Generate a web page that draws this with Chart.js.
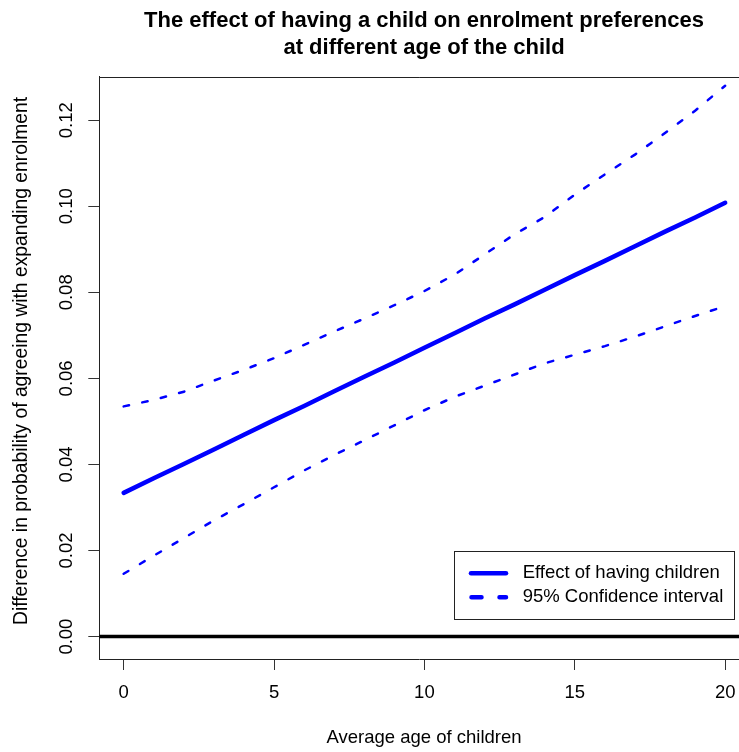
<!DOCTYPE html>
<html>
<head>
<meta charset="utf-8">
<title>Effect of having a child on enrolment preferences</title>
<style>
  html, body { margin: 0; padding: 0; background: #fff; overflow: hidden; }
  canvas { display: block; }
</style>
<script src="https://cdn.jsdelivr.net/npm/chart.js@4.4.1/dist/chart.umd.min.js"></script>
</head>
<body>
<canvas id="chart" width="739" height="752"></canvas>
<script>
// Average age of children (years)
const ages = [0, 1, 2, 3, 4, 5, 6, 7, 8, 9, 10, 11, 12, 13, 14, 15, 16, 17, 18, 19, 20];

// Estimated effect of having children on the probability of agreeing
const effect = [0.0334, 0.0368, 0.0401, 0.0435, 0.0469, 0.0503, 0.0536, 0.0570, 0.0604, 0.0637,
                0.0671, 0.0705, 0.0739, 0.0772, 0.0806, 0.0840, 0.0873, 0.0907, 0.0941, 0.0974, 0.1008];

// 95% confidence bounds
const upperCI = [0.0535, 0.0550, 0.0569, 0.0595, 0.0620, 0.0647, 0.0678, 0.0709, 0.0739, 0.0770,
                 0.0803, 0.0841, 0.0888, 0.0935, 0.0975, 0.1027, 0.1074, 0.1120, 0.1170, 0.1222, 0.1280];
const lowerCI = [0.0146, 0.0188, 0.0229, 0.0270, 0.0308, 0.0347, 0.0386, 0.0422, 0.0456, 0.0491,
                 0.0526, 0.0557, 0.0583, 0.0609, 0.0635, 0.0655, 0.0675, 0.0697, 0.0721, 0.0745, 0.0768];

// Axis ticks and labels
const xTicks = [0, 5, 10, 15, 20];
const xTickLabels = ['0', '5', '10', '15', '20'];
const yTicks = [0, 0.02, 0.04, 0.06, 0.08, 0.10, 0.12];
const yTickLabels = ['0.00', '0.02', '0.04', '0.06', '0.08', '0.10', '0.12'];

const titleLines = ['The effect of having a child on enrolment preferences',
                    'at different age of the child'];
const xTitle = 'Average age of children';
const yTitle = 'Difference in probability of agreeing with expanding enrolment';
const legendLabels = ['Effect of having children', '95% Confidence interval'];

const FONT = '"Liberation Sans", Arial, Helvetica, sans-serif';
const BLUE = '#0000ff';
const LABEL_SIZE = 18.5;

const toPoints = (xs, ys) => xs.map((v, i) => ({ x: v, y: ys[i] }));

// Frame, reference line, tick labels, titles and legend
const decorations = {
  id: 'decorations',
  afterDatasetsDraw(chart) {
    const { ctx, chartArea: a, scales: { x, y } } = chart;
    ctx.save();

    // horizontal reference line at zero
    const y0 = y.getPixelForValue(0);
    ctx.strokeStyle = '#000';
    ctx.lineWidth = 3.5;
    ctx.beginPath();
    ctx.moveTo(a.left, y0);
    ctx.lineTo(a.right, y0);
    ctx.stroke();

    // top edge of the plot frame
    ctx.strokeStyle = '#222';
    ctx.lineWidth = 1;
    const yt = Math.round(a.top) + 0.5;
    ctx.beginPath();
    ctx.moveTo(a.left, yt);
    ctx.lineTo(a.right, yt);
    ctx.stroke();

    ctx.fillStyle = '#000';
    ctx.textAlign = 'center';
    ctx.textBaseline = 'middle';
    ctx.font = `${LABEL_SIZE}px ${FONT}`;

    // x tick labels
    xTicks.forEach((v, i) => ctx.fillText(xTickLabels[i], x.getPixelForValue(v), 693));

    // y tick labels, rotated to read upwards
    yTicks.forEach((v, i) => {
      ctx.save();
      ctx.translate(66.7, y.getPixelForValue(v));
      ctx.rotate(-Math.PI / 2);
      ctx.fillText(yTickLabels[i], 0, 0);
      ctx.restore();
    });

    // axis titles
    const centreX = 424;
    ctx.fillText(xTitle, centreX, 738);
    ctx.save();
    ctx.translate(22, 361);
    ctx.rotate(-Math.PI / 2);
    ctx.font = `19.3px ${FONT}`;
    ctx.fillText(yTitle, 0, 0);
    ctx.restore();

    // main title
    ctx.font = `bold 22px ${FONT}`;
    ctx.textBaseline = 'alphabetic';
    ctx.fillText(titleLines[0], centreX, 26.5);
    ctx.fillText(titleLines[1], centreX, 54);

    // legend
    const lx = 454.5, ly = 551.5, lw = 280, lh = 68;
    ctx.fillStyle = '#fff';
    ctx.fillRect(lx, ly, lw, lh);
    ctx.strokeStyle = '#222';
    ctx.lineWidth = 1;
    ctx.strokeRect(lx, ly, lw, lh);

    const rows = [573.3, 597.3];
    ctx.strokeStyle = BLUE;
    ctx.lineWidth = 4.5;
    ctx.lineCap = 'round';
    ctx.beginPath();
    ctx.moveTo(471, rows[0]);
    ctx.lineTo(506, rows[0]);
    ctx.stroke();
    ctx.setLineDash([10, 18]);
    ctx.beginPath();
    ctx.moveTo(471.5, rows[1]);
    ctx.lineTo(506, rows[1]);
    ctx.stroke();
    ctx.setLineDash([]);

    ctx.fillStyle = '#000';
    ctx.font = `${LABEL_SIZE}px ${FONT}`;
    ctx.textAlign = 'left';
    ctx.textBaseline = 'middle';
    legendLabels.forEach((t, i) => ctx.fillText(t, 522.7, rows[i]));

    ctx.restore();
  }
};

new Chart(document.getElementById('chart'), {
  type: 'line',
  data: {
    datasets: [
      {
        label: legendLabels[0],
        data: toPoints(ages, effect),
        borderColor: BLUE,
        borderWidth: 4.5,
        borderCapStyle: 'round',
        borderJoinStyle: 'round',
        pointRadius: 0,
        tension: 0
      },
      {
        label: legendLabels[1],
        data: toPoints(ages, upperCI),
        borderColor: BLUE,
        borderWidth: 2.5,
        borderDash: [5.5, 13.5],
        borderCapStyle: 'round',
        pointRadius: 0,
        tension: 0
      },
      {
        label: legendLabels[1],
        data: toPoints(ages, lowerCI),
        borderColor: BLUE,
        borderWidth: 2.5,
        borderDash: [5.5, 13.5],
        borderCapStyle: 'round',
        pointRadius: 0,
        tension: 0
      }
    ]
  },
  options: {
    responsive: false,
    animation: false,
    devicePixelRatio: 1,
    layout: { padding: { top: 76.7, left: 0, right: 0, bottom: 0 } },
    plugins: {
      legend: { display: false },
      title: { display: false },
      tooltip: { enabled: false }
    },
    scales: {
      x: {
        type: 'linear',
        min: -0.81,
        max: 20.46,
        afterBuildTicks: s => { s.ticks = xTicks.map(v => ({ value: v })); },
        afterFit: s => { s.height = 93; },
        grid: { drawOnChartArea: false, drawTicks: true, tickLength: 11, color: '#333', lineWidth: 1 },
        border: { display: true, color: '#222', width: 1 },
        ticks: { display: false }
      },
      y: {
        type: 'linear',
        min: -0.0052,
        max: 0.1301,
        afterBuildTicks: s => { s.ticks = yTicks.map(v => ({ value: v })); },
        afterFit: s => { s.width = 99.3; },
        grid: { drawOnChartArea: false, drawTicks: true, tickLength: 11, color: '#333', lineWidth: 1 },
        border: { display: true, color: '#222', width: 1 },
        ticks: { display: false }
      }
    }
  },
  plugins: [decorations]
});
</script>
</body>
</html>
